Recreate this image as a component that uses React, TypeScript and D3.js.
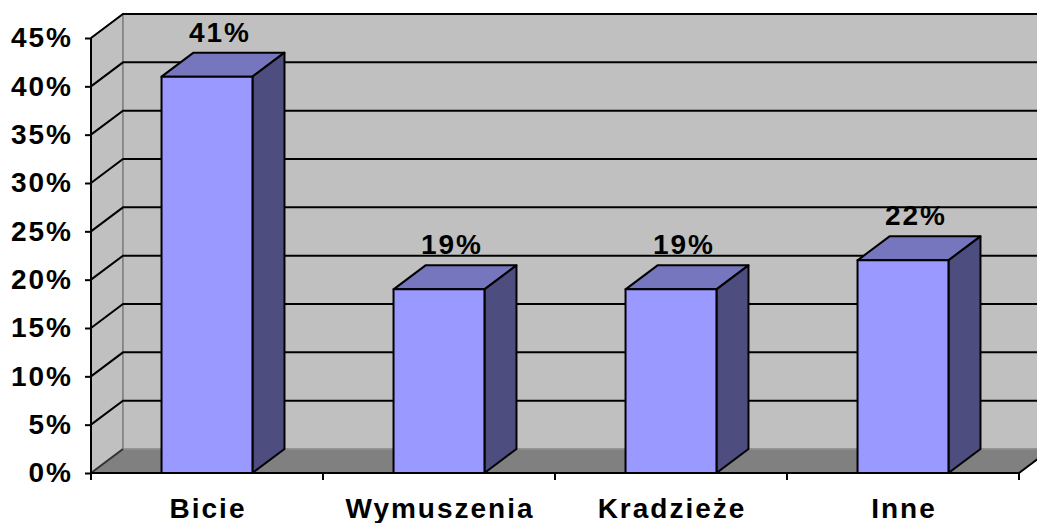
import { useEffect, useRef } from 'react';
import * as d3 from 'd3';

const categories = ['Bicie', 'Wymuszenia', 'Kradzieże', 'Inne'];
const values = [0.41, 0.19, 0.19, 0.22];
const yTicks = [0, 0.05, 0.1, 0.15, 0.2, 0.25, 0.3, 0.35, 0.4, 0.45];

const W = 1037;
const H = 523;
const DX = 32;
const DY = 24;
const FONT = '"Liberation Sans", Arial, sans-serif';

export default function App() {
  const svgRef = useRef<SVGSVGElement>(null);

  useEffect(() => {
    if (!svgRef.current) return;
    const svg = d3.select(svgRef.current);
    svg.selectAll('*').remove();

    const left = 91, right = 1019, bottom = 473, top = 38;

    const x = d3.scaleBand<string>().domain(categories).range([left, right]).padding(0);
    const y = d3.scaleLinear().domain([0, 0.45]).range([bottom, top]);
    const barW = x.bandwidth() * 0.392;
    const fmt = d3.format('.0%');

    // left side wall
    svg.append('polygon')
      .attr('points', [[left, top], [left + DX, top - DY], [left + DX, bottom - DY], [left, bottom]].join(' '))
      .attr('fill', '#c0c0c0')
      .attr('stroke', '#808080')
      .attr('stroke-width', 1.5);

    // back wall
    svg.append('rect')
      .attr('x', left + DX)
      .attr('y', top - DY)
      .attr('width', right - left + 20)
      .attr('height', bottom - top)
      .attr('fill', '#c0c0c0')
      .attr('stroke', '#808080')
      .attr('stroke-width', 1.5);

    // floor
    svg.append('polygon')
      .attr('points', [[left, bottom], [right, bottom], [right + DX, bottom - DY], [left + DX, bottom - DY]].join(' '))
      .attr('fill', '#808080')
      .attr('stroke', '#999999')
      .attr('stroke-width', 1);

    // value labels (drawn under the gridlines, like the original)
    svg.append('g')
      .selectAll('text')
      .data(values)
      .enter()
      .append('text')
      .attr('x', (d, i) => x(categories[i])! + x.bandwidth() / 2 + 13)
      .attr('y', d => y(d) - DY - 11)
      .attr('text-anchor', 'middle')
      .attr('font-family', FONT)
      .attr('font-weight', 'bold')
      .attr('font-size', 28)
      .attr('letter-spacing', 2)
      .attr('fill', '#000')
      .text(d => fmt(d));

    // gridlines on side and back walls
    const grid = svg.append('g').attr('stroke', '#000').attr('stroke-width', 2).attr('fill', 'none');
    yTicks.slice(1).forEach(t => {
      grid.append('path')
        .attr('d', `M${left},${y(t)}L${left + DX},${y(t) - DY}L${W + 10},${y(t) - DY}`);
    });
    grid.append('path')
      .attr('d', `M${left},${bottom}L${left + DX},${bottom - DY}`)
      .attr('stroke', '#333');

    // bars
    const bars = svg.append('g').attr('stroke', '#000').attr('stroke-width', 2).attr('stroke-linejoin', 'round');
    values.forEach((v, i) => {
      const x0 = x(categories[i])! + (x.bandwidth() - barW) / 2;
      const x1 = x0 + barW;
      const yt = y(v);
      bars.append('polygon')
        .attr('points', [[x0, yt], [x0 + DX, yt - DY], [x1 + DX, yt - DY], [x1, yt]].join(' '))
        .attr('fill', '#7676bf');
      bars.append('polygon')
        .attr('points', [[x1, yt], [x1 + DX, yt - DY], [x1 + DX, bottom - DY], [x1, bottom]].join(' '))
        .attr('fill', '#4d4d80');
      bars.append('rect')
        .attr('x', x0)
        .attr('y', yt)
        .attr('width', barW)
        .attr('height', bottom - yt)
        .attr('fill', '#9999ff');
    });

    // axes
    const yAxis = svg.append('g')
      .attr('transform', `translate(${left},0)`)
      .call(d3.axisLeft(y).tickValues(yTicks).tickFormat(d => fmt(d as number)).tickSize(6).tickPadding(12));
    yAxis.select('.domain').attr('stroke', '#000').attr('stroke-width', 2).attr('d', `M0,${top}V${bottom}`);
    yAxis.selectAll('.tick line').attr('stroke', '#000').attr('stroke-width', 2);
    yAxis.selectAll('.tick text')
      .attr('font-family', FONT)
      .attr('font-weight', 'bold')
      .attr('font-size', 28)
      .attr('letter-spacing', 2)
      .attr('fill', '#000');

    svg.append('path')
      .attr('d', `M${left},${bottom}H${right}L${right + DX},${bottom - DY}`)
      .attr('stroke', '#000')
      .attr('stroke-width', 2)
      .attr('fill', 'none');

    const ticksX = categories.map(c => x(c)!).concat([right]);
    svg.append('g')
      .selectAll('line')
      .data(ticksX)
      .enter()
      .append('line')
      .attr('x1', d => d)
      .attr('x2', d => d)
      .attr('y1', bottom)
      .attr('y2', bottom + 7)
      .attr('stroke', '#000')
      .attr('stroke-width', 2);

    svg.append('g')
      .selectAll('text')
      .data(categories)
      .enter()
      .append('text')
      .attr('x', d => x(d)! + x.bandwidth() / 2 + 1)
      .attr('y', 518)
      .attr('text-anchor', 'middle')
      .attr('font-family', FONT)
      .attr('font-weight', 'bold')
      .attr('font-size', 28)
      .attr('letter-spacing', 2)
      .attr('fill', '#000')
      .text(d => d);
  }, []);

  return (
    <svg
      ref={svgRef}
      width={W}
      height={H}
      style={{ position: 'absolute', left: 0, top: 0, background: '#fff' }}
    />
  );
}
